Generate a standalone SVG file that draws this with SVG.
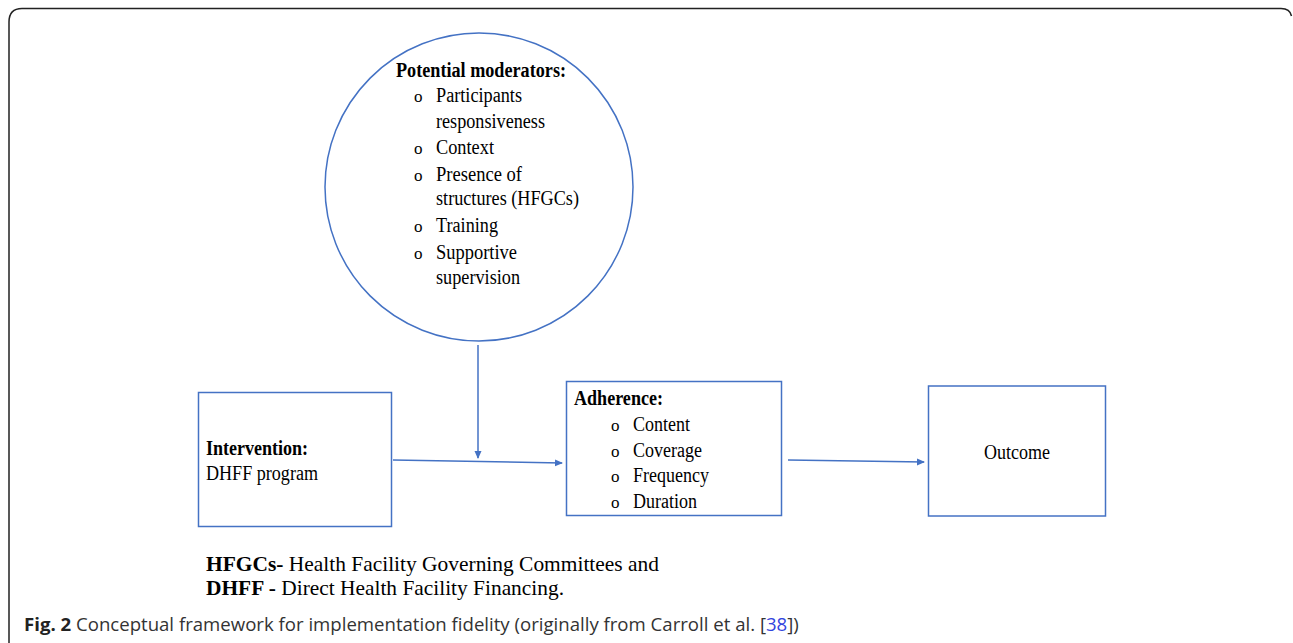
<svg xmlns="http://www.w3.org/2000/svg" width="1293" height="643" viewBox="0 0 1293 643">
<defs>
<style>
.t{font-family:"Liberation Serif","Times New Roman",serif;font-size:20px;fill:#000}
.f{font-size:21px}
.b{font-weight:bold}
.o{font-family:"Liberation Serif","Times New Roman",serif;font-size:17px;fill:#000}
.box{fill:none;stroke:#4472C4;stroke-width:1.5}
.con{stroke:#4472C4;stroke-width:1.5;fill:none}
.cap{font-family:"Open Sans","Noto Sans",sans-serif;font-size:18.6px;fill:#333}
</style>
<marker id="ah" markerWidth="8" markerHeight="8" refX="7" refY="4" orient="auto" markerUnits="userSpaceOnUse">
<path d="M0,0.5 L8,4 L0,7.5 Z" fill="#4472C4"/>
</marker>
</defs>
<rect width="1293" height="643" fill="#fff"/>
<path d="M9,660 L9,22 Q9,8.5 22,8.5 L1281,8.5 Q1290,8.5 1291.5,16" fill="none" stroke="#222" stroke-width="1.5"/>

<g id="moderators">
<circle class="box" cx="479" cy="187" r="154"/>
<text class="t b" x="396" y="77" textLength="170" lengthAdjust="spacingAndGlyphs">Potential moderators:</text>
<text class="o" x="414" y="102">o</text><text class="t" x="436" y="102" textLength="86" lengthAdjust="spacingAndGlyphs">Participants</text>
<text class="t" x="436" y="128" textLength="109" lengthAdjust="spacingAndGlyphs">responsiveness</text>
<text class="o" x="414" y="154">o</text><text class="t" x="436" y="154" textLength="58" lengthAdjust="spacingAndGlyphs">Context</text>
<text class="o" x="414" y="181">o</text><text class="t" x="436" y="181" textLength="86" lengthAdjust="spacingAndGlyphs">Presence of</text>
<text class="t" x="436" y="205" textLength="143" lengthAdjust="spacingAndGlyphs">structures (HFGCs)</text>
<text class="o" x="414" y="232">o</text><text class="t" x="436" y="232" textLength="62" lengthAdjust="spacingAndGlyphs">Training</text>
<text class="o" x="414" y="259">o</text><text class="t" x="436" y="259" textLength="81" lengthAdjust="spacingAndGlyphs">Supportive</text>
<text class="t" x="436" y="284" textLength="84" lengthAdjust="spacingAndGlyphs">supervision</text>
</g>

<g id="intervention">
<rect class="box" x="198.5" y="392.5" width="193" height="134"/>
<text class="t b" x="206" y="455" textLength="102" lengthAdjust="spacingAndGlyphs">Intervention:</text>
<text class="t" x="206" y="480" textLength="112" lengthAdjust="spacingAndGlyphs">DHFF program</text>
</g>

<g id="adherence">
<rect class="box" x="566.5" y="381.5" width="215" height="134"/>
<text class="t b" x="574" y="405" textLength="89" lengthAdjust="spacingAndGlyphs">Adherence:</text>
<text class="o" x="611" y="431">o</text><text class="t" x="633" y="431" textLength="57" lengthAdjust="spacingAndGlyphs">Content</text>
<text class="o" x="611" y="457">o</text><text class="t" x="633" y="457" textLength="69" lengthAdjust="spacingAndGlyphs">Coverage</text>
<text class="o" x="611" y="482">o</text><text class="t" x="633" y="482" textLength="76" lengthAdjust="spacingAndGlyphs">Frequency</text>
<text class="o" x="611" y="508">o</text><text class="t" x="633" y="508" textLength="64" lengthAdjust="spacingAndGlyphs">Duration</text>
</g>

<g id="outcome">
<rect class="box" x="928.5" y="386" width="177" height="130"/>
<text class="t" x="984" y="459" textLength="66" lengthAdjust="spacingAndGlyphs">Outcome</text>
</g>

<g id="connectors">
<line class="con" x1="478" y1="345" x2="478" y2="458" marker-end="url(#ah)"/>
<line class="con" x1="393" y1="460" x2="562" y2="463" marker-end="url(#ah)"/>
<line class="con" x1="788" y1="460" x2="924" y2="462" marker-end="url(#ah)"/>
</g>

<g id="legend">
<text class="t f" x="206" y="571" textLength="453" lengthAdjust="spacingAndGlyphs"><tspan class="b">HFGCs-</tspan> Health Facility Governing Committees and</text>
<text class="t f" x="206" y="595" textLength="358" lengthAdjust="spacingAndGlyphs"><tspan class="b">DHFF -</tspan> Direct Health Facility Financing.</text>
</g>

<text class="cap" x="24" y="631"><tspan font-weight="bold" fill="#222">Fig. 2</tspan> Conceptual framework for implementation fidelity (originally from Carroll et al. [<tspan fill="#3344dd">38</tspan>])</text>
</svg>
